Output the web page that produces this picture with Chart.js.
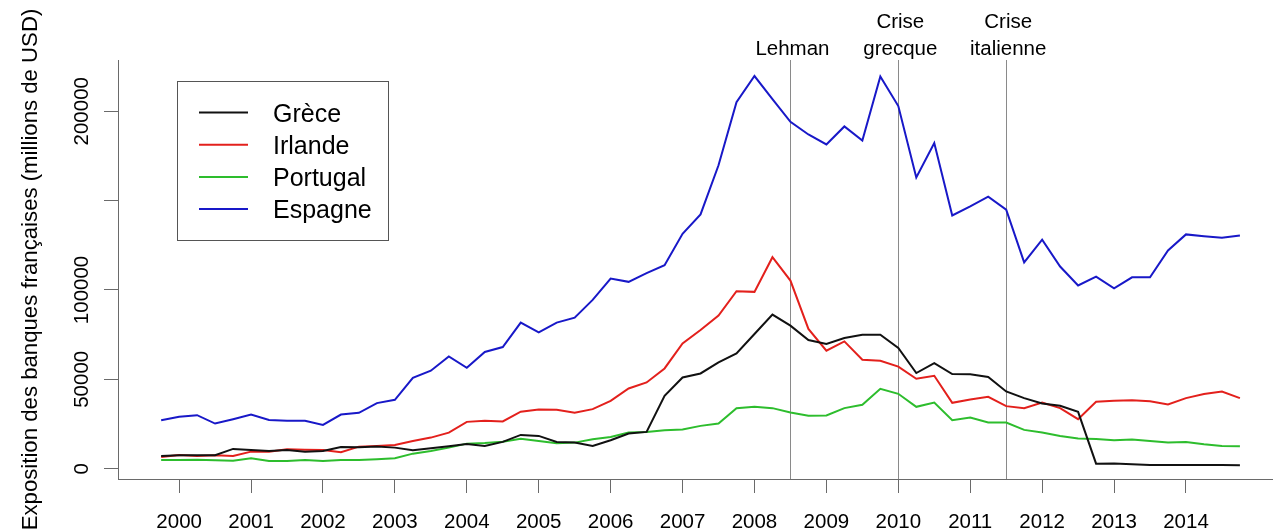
<!DOCTYPE html>
<html>
<head>
<meta charset="utf-8">
<script src="https://cdn.jsdelivr.net/npm/chart.js@4.4.0/dist/chart.umd.min.js"></script>
<style>
  html, body { margin: 0; padding: 0; background: #fff; }
  #chart { display: block; }
</style>
</head>
<body>
<canvas id="chart" width="1273" height="531"></canvas>
<script>
// --- DATA (quarterly, millions de USD) ---
const quarters = [1999.75,
  2000, 2000.25, 2000.5, 2000.75, 2001, 2001.25, 2001.5, 2001.75,
  2002, 2002.25, 2002.5, 2002.75, 2003, 2003.25, 2003.5, 2003.75,
  2004, 2004.25, 2004.5, 2004.75, 2005, 2005.25, 2005.5, 2005.75,
  2006, 2006.25, 2006.5, 2006.75, 2007, 2007.25, 2007.5, 2007.75,
  2008, 2008.25, 2008.5, 2008.75, 2009, 2009.25, 2009.5, 2009.75,
  2010, 2010.25, 2010.5, 2010.75, 2011, 2011.25, 2011.5, 2011.75,
  2012, 2012.25, 2012.5, 2012.75, 2013, 2013.25, 2013.5, 2013.75,
  2014, 2014.25, 2014.5, 2014.75];

const greece = [7120,
  7500, 7500, 7500, 11050, 10490, 9930, 10490, 9540,
  9930, 12170, 12000, 12340, 11780, 10320, 11440, 12560,
  13850, 12730, 15000, 18900, 18340, 14980, 14580, 12730,
  15930, 19630, 20590, 40780, 51040, 53290, 59460, 64500,
  75380, 86210, 80040, 72020, 69780, 73140, 74990, 74990,
  67530, 53500, 59100, 52950, 52800, 51270, 43190, 39490,
  36460, 35170, 31800, 2800, 2900, 2470, 2080, 2080,
  2080, 2080, 2080, 1900];

const ireland = [6560,
  7680, 7120, 7500, 7120, 9540, 9540, 10880, 10660,
  10490, 9200, 12340, 12730, 13290, 15540, 17390, 20190,
  26190, 26750, 26460, 31880, 33100, 32920, 31240, 33300,
  37970, 44870, 48240, 56090, 70110, 77600, 85650, 99280,
  98940, 118350, 105280, 78190, 66020, 71230, 60970, 60410,
  57100, 50300, 52000, 36850, 38700, 40220, 35000, 33880,
  37020, 33880, 27700, 37400, 37970, 38340, 37780, 35900,
  39490, 41730, 43190, 39490];

const portugal = [4880,
  4880, 5050, 4710, 4490, 5830, 4320, 4320, 4880,
  4320, 4880, 4880, 5270, 5830, 8410, 9930, 11780,
  14020, 14420, 15060, 16750, 15540, 14250, 14580, 16490,
  17780, 20190, 20590, 21540, 21880, 23950, 25240, 33880,
  34610, 33880, 31410, 29560, 29750, 33880, 35730, 44700,
  41900, 34600, 37020, 27150, 28610, 25800, 25800, 21700,
  20190, 18340, 16830, 16660, 15930, 16300, 15540, 14580,
  14960, 13690, 12730, 12560];

const spain = [27150,
  29000, 29950, 25240, 27700, 30290, 27300, 26750, 26750,
  24500, 30290, 31240, 36680, 38530, 50870, 54800, 62820,
  56480, 65290, 68060, 81720, 76280, 81720, 84530, 94450,
  106400, 104550, 109400, 113860, 131470, 142300, 169800, 205100,
  219700, 206800, 194070, 187000, 181400, 191500, 183600, 219500,
  202900, 162900, 182200, 141700, 146800, 152200, 144900, 115400,
  128100, 113100, 102500, 107500, 100970, 107100, 107100, 122100,
  131100, 130100, 129200, 130500];

const seriesNames = ['Grèce', 'Irlande', 'Portugal', 'Espagne'];
const seriesValues = [greece, ireland, portugal, spain];
const seriesColors = ['#111111', '#e3201c', '#2dbd2d', '#1818c8'];

const yearTicks = [2000, 2001, 2002, 2003, 2004, 2005, 2006, 2007, 2008, 2009, 2010, 2011, 2012, 2013, 2014];
const yTicks = [0, 50000, 100000, 150000, 200000];
const yTickLabels = ['0', '50000', '100000', '', '200000'];

// crisis markers
const events = [2008.5, 2010, 2011.5];
const eventLabels = [['Lehman'], ['Crise', 'grecque'], ['Crise', 'italienne']];

const FONT = '"Liberation Sans", Arial, Helvetica, sans-serif';
const AXIS_GREY = '#6a6a6a';

// --- EXTRA DRAWING (event lines, rotated y labels, legend box) ---
const overlay = {
  id: 'overlay',
  beforeDatasetsDraw(chart) {
    const { ctx, chartArea, scales } = chart;
    ctx.save();
    ctx.strokeStyle = '#8a8a8a';
    ctx.lineWidth = 1;
    events.forEach(ev => {
      const x = Math.round(scales.x.getPixelForValue(ev)) + 0.5;
      ctx.beginPath();
      ctx.moveTo(x, chartArea.top);
      ctx.lineTo(x, chartArea.bottom);
      ctx.stroke();
    });
    ctx.restore();
  },
  afterDraw(chart) {
    const { ctx, scales } = chart;
    ctx.save();
    ctx.fillStyle = '#000';

    // y tick labels, rotated like R's default
    ctx.font = '20.5px ' + FONT;
    ctx.textAlign = 'center';
    ctx.textBaseline = 'alphabetic';
    yTicks.forEach((v, i) => {
      if (!yTickLabels[i]) return;
      ctx.save();
      ctx.translate(88, scales.y.getPixelForValue(v));
      ctx.rotate(-Math.PI / 2);
      ctx.fillText(yTickLabels[i], 0, 0);
      ctx.restore();
    });

    // event labels above the plot
    events.forEach((ev, i) => {
      const x = scales.x.getPixelForValue(ev);
      const lines = eventLabels[i];
      lines.forEach((t, j) => {
        const y = 55 - (lines.length - 1 - j) * 27;
        ctx.fillText(t, x + 2, y);
      });
    });

    // legend
    ctx.strokeStyle = '#555';
    ctx.lineWidth = 1;
    ctx.strokeRect(177.5, 81.5, 211, 159);
    ctx.font = '25px ' + FONT;
    ctx.textAlign = 'left';
    seriesNames.forEach((name, i) => {
      const y = 112.5 + i * 32.2;
      ctx.strokeStyle = seriesColors[i];
      ctx.lineWidth = 2;
      ctx.beginPath();
      ctx.moveTo(199, y);
      ctx.lineTo(248, y);
      ctx.stroke();
      ctx.fillText(name, 273, y + 9);
    });
    ctx.restore();
  }
};

const ctx = document.getElementById('chart').getContext('2d');
new Chart(ctx, {
  type: 'line',
  data: {
    datasets: seriesNames.map((name, k) => ({
      label: name,
      data: quarters.map((q, i) => ({ x: q, y: seriesValues[k][i] })),
      borderColor: seriesColors[k],
      borderWidth: 2,
      pointRadius: 0,
      tension: 0,
      fill: false
    }))
  },
  options: {
    responsive: false,
    animation: false,
    layout: { padding: { top: 60, left: 0, right: 0, bottom: 0 }, autoPadding: false },
    plugins: { legend: { display: false }, tooltip: { enabled: false } },
    scales: {
      x: {
        type: 'linear',
        min: 1999.15,
        max: 2015.21,
        afterBuildTicks: s => { s.ticks = yearTicks.map(v => ({ value: v })); },
        afterFit: s => { s.height = 52; },
        grid: { drawOnChartArea: false, tickLength: 14, color: AXIS_GREY, tickColor: AXIS_GREY },
        border: { color: AXIS_GREY, width: 1 },
        ticks: {
          padding: 17,
          color: '#000',
          font: { family: FONT, size: 20.5 },
          maxRotation: 0,
          autoSkip: false,
          callback: v => String(v)
        }
      },
      y: {
        min: -5777,
        max: 228680,
        afterBuildTicks: s => { s.ticks = yTicks.map(v => ({ value: v })); },
        afterFit: s => { s.width = 118; },
        grid: { drawOnChartArea: false, tickLength: 14, color: AXIS_GREY, tickColor: AXIS_GREY },
        border: { color: AXIS_GREY, width: 1 },
        ticks: { display: false },
        title: {
          display: true,
          text: 'Exposition des banques françaises (millions de USD)',
          color: '#000',
          font: { family: FONT, size: 22.2 },
          padding: { top: 18 }
        }
      }
    }
  },
  plugins: [overlay]
});
</script>
</body>
</html>
